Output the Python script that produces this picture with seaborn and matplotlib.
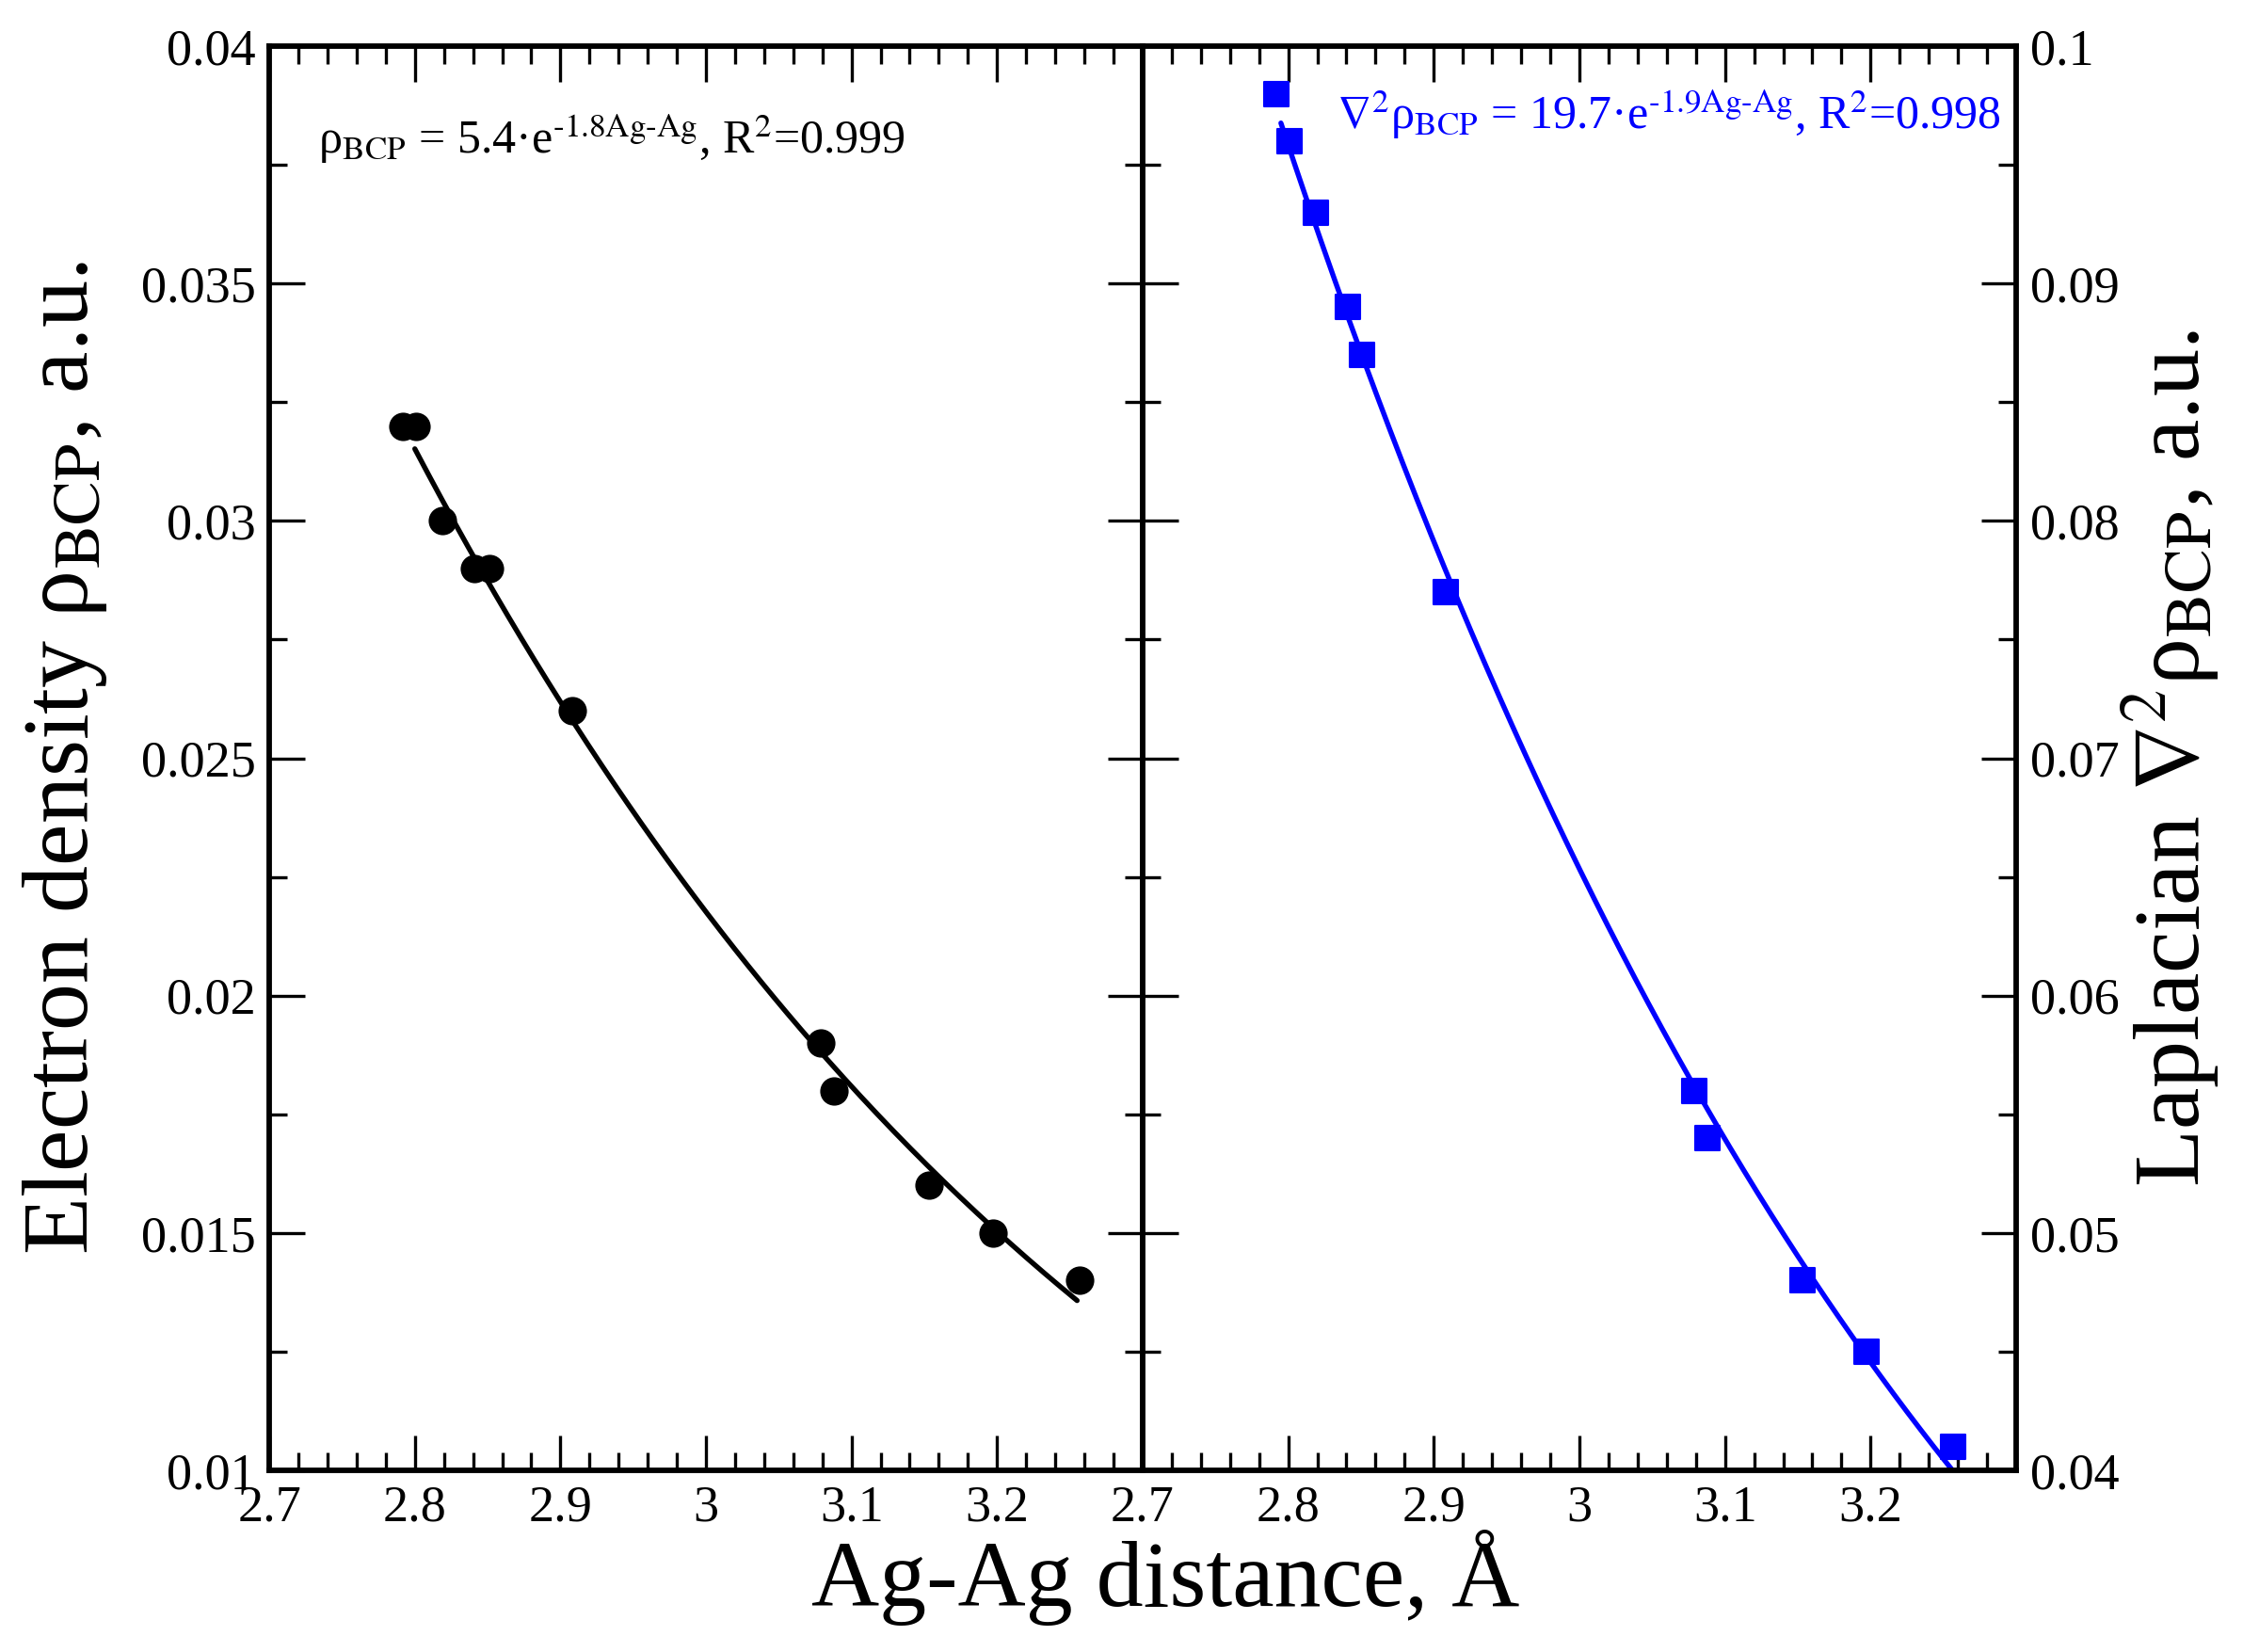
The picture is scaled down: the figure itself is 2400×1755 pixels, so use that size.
import numpy as np
import pandas as pd
import matplotlib
matplotlib.use('Agg')
import matplotlib.pyplot as plt
import seaborn as sns
from matplotlib.ticker import MultipleLocator, FixedLocator

# Ag-Ag distances (same for both panels)
distance = [2.792, 2.801, 2.819, 2.841, 2.851, 2.908, 3.079, 3.088, 3.153, 3.197, 3.257]
# electron density at BCP
rho_bcp = [0.032, 0.032, 0.030, 0.029, 0.029, 0.026, 0.019, 0.018, 0.016, 0.015, 0.014]
# Laplacian at BCP
lap_bcp = [0.098, 0.096, 0.093, 0.089, 0.087, 0.077, 0.056, 0.054, 0.048, 0.045, 0.041]

rho_ticks = [0.01, 0.015, 0.02, 0.025, 0.03, 0.035, 0.04]
rho_labels = ['0.01', '0.015', '0.02', '0.025', '0.03', '0.035', '0.04']
lap_ticks = [0.04, 0.05, 0.06, 0.07, 0.08, 0.09, 0.1]
lap_labels = ['0.04', '0.05', '0.06', '0.07', '0.08', '0.09', '0.1']
x_ticks = [2.7, 2.8, 2.9, 3.0, 3.1, 3.2]
x_labels = ['2.7', '2.8', '2.9', '3', '3.1', '3.2']

df = pd.DataFrame({'d': distance, 'rho': rho_bcp, 'lap': lap_bcp})

sns.set_theme(style='ticks')
plt.rcParams['font.family'] = ['Liberation Serif', 'DejaVu Serif']
plt.rcParams['mathtext.fontset'] = 'stix'
plt.rcParams['text.color'] = 'black'
plt.rcParams['axes.labelcolor'] = 'black'

fig = plt.figure(figsize=(8, 5.85), dpi=300)
ax1 = fig.add_axes([0.1192, 0.110, 0.3866, 0.862])
ax2 = fig.add_axes([0.5058, 0.110, 0.3867, 0.862])


# exponential fit y = a*exp(-b*x) via log-linear regression
def exp_fit(x, y, x0, x1):
    b, lna = np.polyfit(np.array(x), np.log(np.array(y)), 1)
    xf = np.linspace(x0, x1, 200)
    return pd.DataFrame({'d': xf, 'y': np.exp(lna) * np.exp(b * xf)})


fit1 = exp_fit(distance, rho_bcp, 2.80, 3.255)
fit2 = exp_fit(distance, lap_bcp, 2.795, 3.26)

sns.lineplot(data=fit1, x='d', y='y', ax=ax1, color='black', lw=1.3)
sns.scatterplot(data=df, x='d', y='rho', ax=ax1, color='black', marker='o',
                s=45, edgecolor='black', zorder=3)

sns.lineplot(data=fit2, x='d', y='y', ax=ax2, color='#0000ff', lw=1.3)
sns.scatterplot(data=df, x='d', y='lap', ax=ax2, color='#0000ff', marker='s',
                s=40, edgecolor='#0000ff', zorder=3)

for ax in (ax1, ax2):
    ax.set_xlim(2.7, 3.3)
    ax.xaxis.set_major_locator(FixedLocator(x_ticks))
    ax.set_xticklabels(x_labels)
    ax.xaxis.set_minor_locator(MultipleLocator(0.02))
    ax.tick_params(which='both', direction='in', top=True, bottom=True,
                   left=True, right=True, width=0.8, labelsize=13, colors='black')
    ax.tick_params(which='major', length=9)
    ax.tick_params(which='minor', length=4.5)
    ax.set_xlabel('')
    ax.set_ylabel('')
    for sp in ax.spines.values():
        sp.set_linewidth(1.4)
        sp.set_color('black')

ax1.set_ylim(0.01, 0.04)
ax1.yaxis.set_major_locator(FixedLocator(rho_ticks))
ax1.set_yticklabels(rho_labels)
ax1.yaxis.set_minor_locator(MultipleLocator(0.0025))

ax2.set_ylim(0.04, 0.1)
ax2.yaxis.set_major_locator(FixedLocator(lap_ticks))
ax2.set_yticklabels(lap_labels)
ax2.yaxis.set_minor_locator(MultipleLocator(0.005))
ax2.yaxis.tick_right()
ax2.tick_params(which='both', left=True, right=True, labelleft=False, labelright=True)

ax1.set_ylabel('Electron density ρ$_{\\mathrm{BCP}}$, a.u.', fontsize=24, labelpad=8)
ax2.yaxis.set_label_position('right')
ax2.set_ylabel('Laplacian $\\nabla^{2}$ρ$_{\\mathrm{BCP}}$, a.u.', fontsize=24, labelpad=0,
               rotation=90)
fig.text(0.516, 0.028, 'Ag-Ag distance, Å', fontsize=24, ha='center', va='baseline')

ax1.text(0.056, 0.935, 'ρ$_{\\mathrm{BCP}}$ = 5.4·e$^{\\text{-}\\mathrm{1.8Ag\\text{-}Ag}}$, R$^{2}$=0.999',
         transform=ax1.transAxes, fontsize=12, ha='left', va='center')
ax2.text(0.983, 0.952, '$\\nabla^{2}$ρ$_{\\mathrm{BCP}}$ = 19.7·e$^{\\text{-}\\mathrm{1.9Ag\\text{-}Ag}}$, R$^{2}$=0.998',
         transform=ax2.transAxes, fontsize=12, ha='right', va='center', color='#0000ff')

fig.savefig('out.png', dpi=300)
